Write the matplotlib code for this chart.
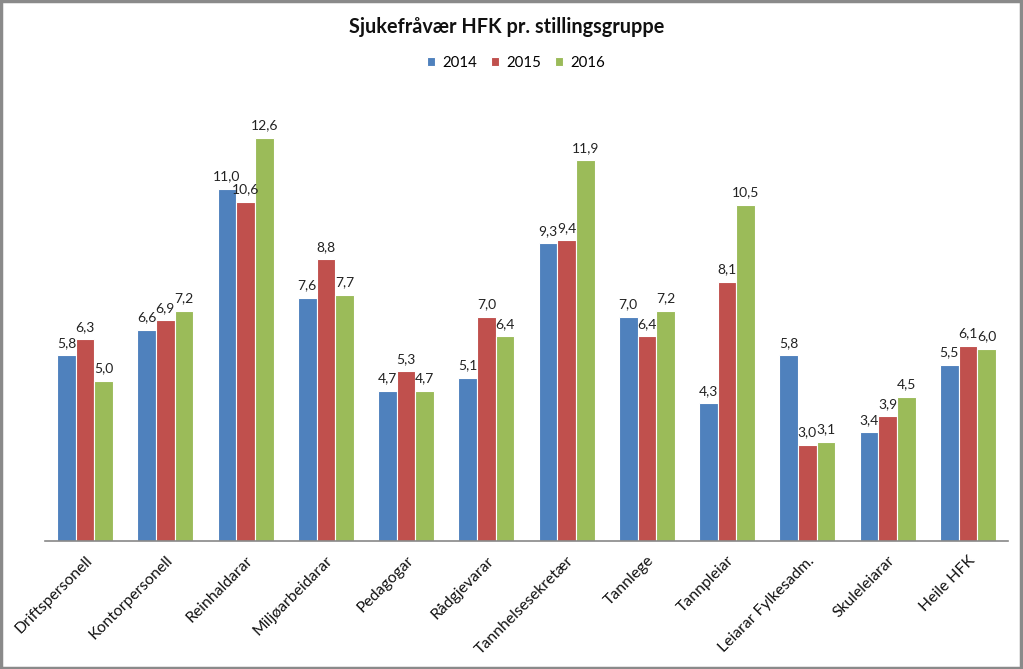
import matplotlib
matplotlib.use("Agg")
import matplotlib.pyplot as plt
import numpy as np
from matplotlib.patches import Rectangle

categories = ["Driftspersonell", "Kontorpersonell", "Reinhaldarar", "Miljøarbeidarar",
              "Pedagogar", "Rådgjevarar", "Tannhelsesekretær", "Tannlege", "Tannpleiar",
              "Leiarar Fylkesadm.", "Skuleleiarar", "Heile HFK"]
years = ["2014", "2015", "2016"]
v2014 = [5.8, 6.6, 11.0, 7.6, 4.7, 5.1, 9.3, 7.0, 4.3, 5.8, 3.4, 5.5]
v2015 = [6.3, 6.9, 10.6, 8.8, 5.3, 7.0, 9.4, 6.4, 8.1, 3.0, 3.9, 6.1]
v2016 = [5.0, 7.2, 12.6, 7.7, 4.7, 6.4, 11.9, 7.2, 10.5, 3.1, 4.5, 6.0]
series = [v2014, v2015, v2016]
colors = ["#4F81BD", "#C0504D", "#9BBB59"]

plt.rcParams['font.family'] = ['Lato', 'DejaVu Sans']

fig = plt.figure(figsize=(10.23, 6.69), dpi=100)
ax = fig.add_axes([45/1023, 128/669, 963/1023, 448/669])

x = np.arange(len(categories))
w = 0.233
for i, (vals, c, yr) in enumerate(zip(series, colors, years)):
    xs = x + (i - 1) * w
    ax.bar(xs, vals, width=w, color=c, edgecolor="white", linewidth=0.8, label=yr)
    for xi, v in zip(xs, vals):
        ax.text(xi, v + 0.2, f"{v:.1f}".replace(".", ","), ha="center", va="bottom",
                fontsize=10, color="#222222")

ax.set_xlim(-0.5, len(categories) - 0.5)
ax.set_ylim(0, 14)
ax.set_yticks([])
for s in ["top", "right", "left"]:
    ax.spines[s].set_visible(False)
ax.spines["bottom"].set_color("#888888")
ax.spines["bottom"].set_linewidth(1.2)
ax.set_xticks(x)
ax.set_xticklabels(categories, rotation=45, ha="right", rotation_mode="anchor",
                   fontsize=11.3, color="#111111")
ax.tick_params(axis="x", length=0, pad=9)

fig.text(507/1023, 1 - 27/669, "Sjukefråvær HFK pr. stillingsgruppe", ha="center", va="center",
         fontsize=14.3, fontweight="bold", color="#111111")
fig.legend(loc="center", bbox_to_anchor=(516/1023, 1 - 63/669), ncol=3, frameon=False,
           fontsize=10.8, handlelength=0.55, handleheight=0.55, handletextpad=0.45,
           columnspacing=0.95)

fig.patches.append(Rectangle((0.001, 0.002), 0.997, 0.996, transform=fig.transFigure,
                             fill=False, edgecolor="#8a8a8a", linewidth=2.5))

fig.savefig("out.png", dpi=100, facecolor="white")
